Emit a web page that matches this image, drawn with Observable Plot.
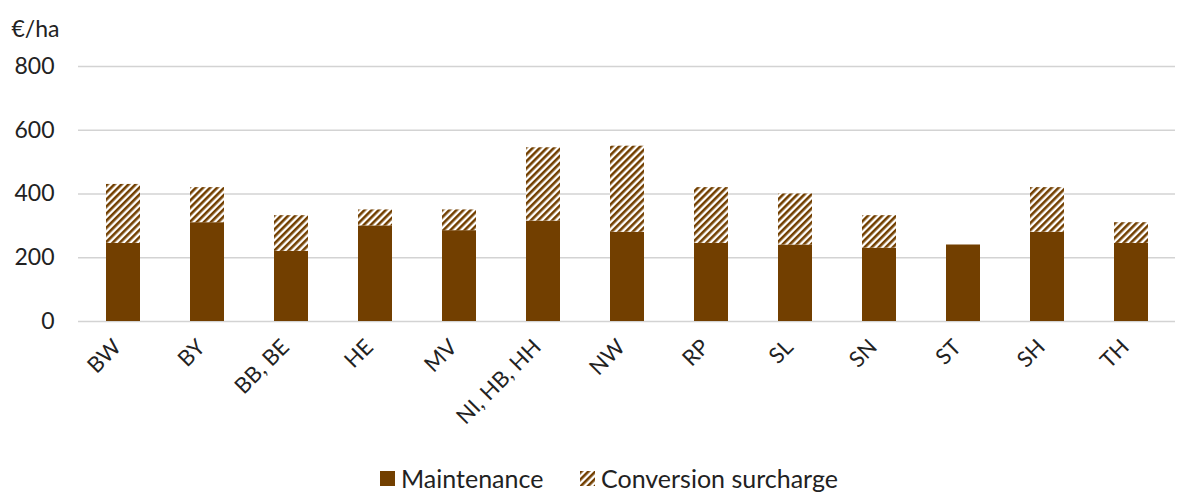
<!DOCTYPE html>
<html>
<head>
<meta charset="utf-8">
<script src="https://cdn.jsdelivr.net/npm/d3@7"></script>
<script src="https://cdn.jsdelivr.net/npm/@observablehq/plot@0.6"></script>
<style>
  body { margin: 0; background: #fff; font-family: Lato, "Open Sans", sans-serif; }
  #chart { width: 1180px; }
  .legend { position: relative; height: 33px; font-size: 25px; color: #222; }
  .legend span.item { position: absolute; top: 3px; display: flex; align-items: center; gap: 6px; }
  .sw { width: 15px; height: 15px; display: inline-block; }
</style>
</head>
<body>
<div id="chart"></div>
<script>
const states = ["BW", "BY", "BB, BE", "HE", "MV", "NI, HB, HH", "NW", "RP", "SL", "SN", "ST", "SH", "TH"];
const maintenance = [245, 310, 220, 300, 285, 315, 280, 245, 240, 230, 240, 280, 245];
const surcharge = [185, 110, 112, 50, 65, 230, 270, 175, 160, 102, 0, 140, 65];
const series = ["Maintenance", "Conversion surcharge"];
const yTicks = [0, 200, 400, 600, 800];

const brown = "#723f00";
const data = [];
states.forEach((s, i) => {
  data.push({state: s, type: series[0], value: maintenance[i]});
  data.push({state: s, type: series[1], value: surcharge[i]});
});

const defs = () => {
  const d = d3.create("svg:defs");
  const p = d.append("pattern").attr("id", "hatch").attr("patternUnits", "userSpaceOnUse")
    .attr("width", 5).attr("height", 5).attr("patternTransform", "rotate(45)");
  p.append("rect").attr("width", 5).attr("height", 5).attr("fill", "#fff");
  p.append("rect").attr("width", 2.6).attr("height", 5).attr("fill", brown);
  return d.node();
};

const chart = Plot.plot({
  width: 1180,
  height: 460,
  marginTop: 66,
  marginBottom: 139,
  marginLeft: 78,
  marginRight: 5,
  style: {fontFamily: "Lato, 'Open Sans', sans-serif", fontSize: "20px", color: "#222"},
  x: {domain: states, paddingInner: 0.6, paddingOuter: 0.3, label: null},
  y: {domain: [0, 800], ticks: yTicks, label: null},
  color: {domain: series, range: [brown, "url(#hatch)"]},
  marks: [
    defs,
    Plot.gridY(yTicks, {stroke: "#d3d3d3", strokeOpacity: 1, strokeWidth: 1.5}),
    Plot.barY(data, {x: "state", y: "value", fill: "type", order: series}),
    Plot.axisY(yTicks, {tickSize: 0, tickPadding: 24, fontSize: 23}),
    Plot.axisX({tickSize: 0, tickRotate: -45, tickPadding: 12, dx: -6, dy: 10, fontSize: 22}),
    Plot.text(["€/ha"], {frameAnchor: "top-left", dx: -67, dy: -46, fontSize: 23, textAnchor: "start"})
  ]
});
document.getElementById("chart").append(chart);

const leg = document.createElement("div");
leg.className = "legend";
leg.innerHTML = `<span class="item" style="left:380px"><span class="sw" style="background:${brown}"></span>Maintenance</span>
<span class="item" style="left:580px"><svg class="sw" width="15" height="15"><rect width="15" height="15" fill="url(#hatch)"/></svg>Conversion surcharge</span>`;
document.getElementById("chart").append(leg);
</script>
</body>
</html>
